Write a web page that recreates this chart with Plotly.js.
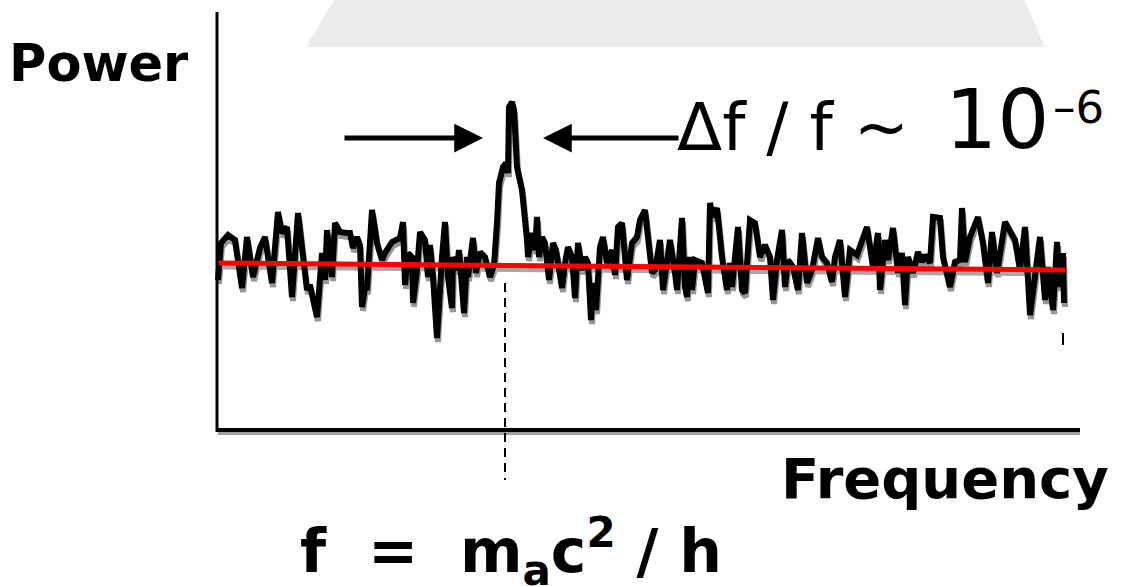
<!DOCTYPE html>
<html>
<head>
<meta charset="utf-8">
<script src="https://cdn.plot.ly/plotly-3.0.1.min.js"></script>
<style>html,body{margin:0;padding:0;background:#fff;}#chart{width:1128px;height:586px;}</style>
</head>
<body>
<div id="chart"></div>
<script>
const freq = [0,3,10,17,24,29,35,42,47,54,60,64,69,74,80,85,89,92,99,104,107,109,114,117,122,129,132,135,139,142,144,147,149,154,159,164,167,174,182,185,187,190,194,195,199,202,207,210,212,215,219,224,227,230,234,235,239,241,244,246,249,250,255,258,262,267,272,276,279,281,285,288,290,291,294,296,299,304,309,310,314,317,319,321,324,327,331,335,338,344,347,350,354,357,360,364,367,370,373,375,378,382,385,389,394,397,400,404,409,414,419,422,427,430,434,437,442,445,449,452,457,459,464,467,469,471,474,477,484,490,492,495,499,504,509,512,514,520,524,527,532,537,542,547,552,555,559,564,567,570,575,580,584,589,594,600,604,609,614,617,622,627,632,639,645,649,652,655,660,662,667,670,675,680,684,687,690,695,700,704,707,712,715,722,725,732,737,742,744,747,752,760,765,770,774,779,787,792,797,802,807,812,817,822,827,830,835,839,842,845,846];
const power = [150,187,195,190,142,193,153,182,193,147,218,197,203,133,217,177,140,145,113,177,150,200,153,207,198,197,197,182,193,185,123,143,140,220,187,170,177,188,192,208,145,177,173,127,160,198,190,153,185,153,92,173,208,153,122,173,160,180,150,117,173,153,192,157,178,173,153,165,207,247,263,267,257,323,328,320,263,240,190,173,197,180,213,173,193,187,150,187,180,142,167,183,173,132,187,160,173,167,110,147,120,183,193,167,180,155,203,207,150,187,193,210,220,197,157,160,190,140,167,190,157,140,212,143,133,173,140,170,167,137,227,213,222,173,140,167,143,203,140,137,210,207,173,185,173,130,170,200,143,170,163,140,197,147,160,192,173,167,148,173,190,133,180,175,192,203,183,163,197,140,190,170,202,157,177,125,173,157,178,168,175,167,213,212,173,143,168,170,222,168,193,213,187,147,198,157,208,200,190,160,203,115,160,193,130,163,120,188,143,177,127];
// Fitted baseline (red line) end points
const baseFreq = [0, 847];
const basePower = [167, 160];
// Signal frequency marker
const peakFreq = 287;

// pixel helpers for layout placement (style only)
const W = 1128, H = 586;
const PX = x => x / W, PY = y => 1 - y / H;

const shadow = (arr, d) => arr.map(v => v + d);

const traces = [
  {x: shadow(freq, 1), y: shadow(power, -4), mode: 'lines', line: {color: '#969696', width: 6}, hoverinfo: 'skip'},
  {x: shadow(baseFreq, 1), y: shadow(basePower, -4), mode: 'lines', line: {color: '#a8a8a8', width: 5}, hoverinfo: 'skip'},
  {x: freq, y: power, mode: 'lines', line: {color: '#000000', width: 6}},
  {x: baseFreq, y: basePower, mode: 'lines', line: {color: '#ff0000', width: 5}}
];

const font = {family: 'DejaVu Sans', color: '#000'};
const layout = {
  width: W, height: H,
  margin: {l: 0, r: 0, t: 0, b: 0, pad: 0},
  paper_bgcolor: '#fff', plot_bgcolor: 'rgba(0,0,0,0)',
  showlegend: false,
  xaxis: {range: [-218, 910], visible: false, fixedrange: true},
  yaxis: {range: [-156, 430], visible: false, fixedrange: true},
  shapes: [
    {type: 'path', layer: 'below', xref: 'x', yref: 'y', path: 'M122,440 L802,440 L827,383 L88,383 Z', fillcolor: '#ebebeb', line: {width: 0}},
    {type: 'line', xref: 'x', yref: 'y', x0: 0, x1: 862, y0: -3, y1: -3, line: {color: '#a0a0a0', width: 4}},
    {type: 'line', xref: 'x', yref: 'y', x0: -1, x1: 862, y0: 0, y1: 0, line: {color: '#000', width: 4}},
    {type: 'line', xref: 'x', yref: 'y', x0: -1, x1: -1, y0: -2, y1: 418, line: {color: '#000', width: 3}},
    {type: 'line', xref: 'x', yref: 'y', x0: peakFreq, x1: peakFreq, y0: 147, y1: -50, line: {color: '#000', width: 2, dash: '9px,6px'}},
    {type: 'line', xref: 'x', yref: 'y', x0: 845, x1: 845, y0: 85, y1: 97, line: {color: '#000', width: 2}}
  ],
  annotations: [
    {xref: 'paper', yref: 'paper', x: PX(7), y: PY(63), xanchor: 'left', yanchor: 'middle', showarrow: false, text: 'Power', font: Object.assign({size: 51, weight: 700}, font)},
    {xref: 'paper', yref: 'paper', x: PX(779), y: PY(478), xanchor: 'left', yanchor: 'middle', showarrow: false, text: 'Frequency', font: Object.assign({size: 56, weight: 700}, font)},
    {xref: 'paper', yref: 'paper', x: PX(298), y: PY(551), xanchor: 'left', yanchor: 'middle', showarrow: false, text: 'f&nbsp;&nbsp;=&nbsp;&nbsp;m<sub>a</sub>c<sup>2</sup> / h', font: Object.assign({size: 60, weight: 700}, font)},
    {xref: 'paper', yref: 'paper', x: PX(675), y: PY(127), xanchor: 'left', yanchor: 'middle', showarrow: false, text: 'Δf / f ~', font: Object.assign({size: 66}, font)},
    {xref: 'paper', yref: 'paper', x: PX(943), y: PY(120), xanchor: 'left', yanchor: 'middle', showarrow: false, text: '10', font: Object.assign({size: 82}, font)},
    {xref: 'paper', yref: 'paper', x: PX(1051), y: PY(108), xanchor: 'left', yanchor: 'middle', showarrow: false, text: '–6', font: Object.assign({size: 45}, font)},
    {xref: 'x', yref: 'y', axref: 'x', ayref: 'y', x: 265, y: 292, ax: 125, ay: 292, text: '', showarrow: true, arrowhead: 2, arrowsize: 1.15, arrowwidth: 5, arrowcolor: '#000', standoff: 0, startstandoff: 0},
    {xref: 'x', yref: 'y', axref: 'x', ayref: 'y', x: 325, y: 292, ax: 462, ay: 292, text: '', showarrow: true, arrowhead: 2, arrowsize: 1.15, arrowwidth: 5, arrowcolor: '#000', standoff: 0, startstandoff: 0}
  ]
};

Plotly.newPlot('chart', traces, layout, {staticPlot: true, displayModeBar: false});
</script>
</body>
</html>
